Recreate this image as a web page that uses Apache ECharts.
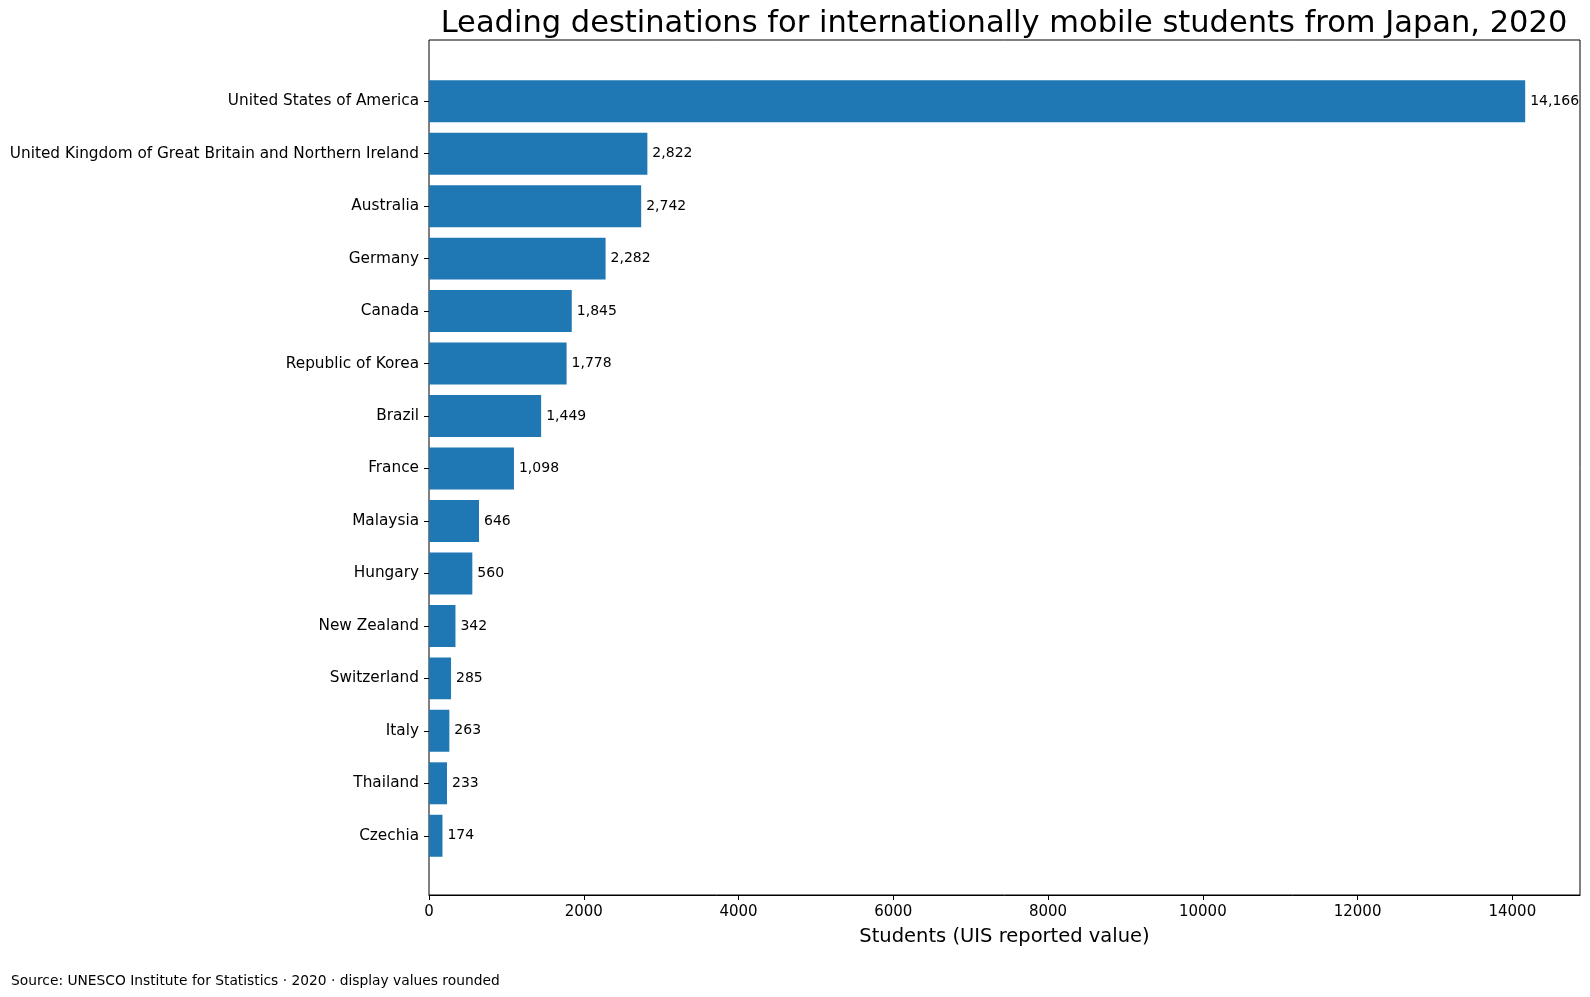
<!DOCTYPE html>
<html>
<head>
<meta charset="utf-8">
<title>Leading destinations for internationally mobile students from Japan, 2020</title>
<script src="https://cdn.jsdelivr.net/npm/echarts@6/dist/echarts.min.js"></script>
<style>
  html, body { margin: 0; padding: 0; background: #fff; }
  #chart { width: 1590px; height: 997px; }
</style>
</head>
<body>
<div id="chart"></div>
<script>
// data
var countries = [
  'United States of America',
  'United Kingdom of Great Britain and Northern Ireland',
  'Australia', 'Germany', 'Canada', 'Republic of Korea', 'Brazil',
  'France', 'Malaysia', 'Hungary', 'New Zealand', 'Switzerland',
  'Italy', 'Thailand', 'Czechia'
];
var students = [14166, 2822, 2742, 2282, 1845, 1778, 1449, 1098, 646, 560, 342, 285, 263, 233, 174];
var xTicks = [0, 2000, 4000, 6000, 8000, 10000, 12000, 14000];

var FONT = 'DejaVu Sans';
var xMax = Math.max.apply(null, students) * 1.05;  // matplotlib style 5% margin

var chart = echarts.init(document.getElementById('chart'), null, { renderer: 'canvas' });

var option = {
  backgroundColor: '#fff',
  animation: false,
  textStyle: { fontFamily: FONT },
  graphic: [
    {
      type: 'text', x: 1004, y: 24,
      style: {
        text: 'Leading destinations for internationally mobile students from Japan, 2020',
        font: '30.5px "DejaVu Sans"', fill: '#000',
        textAlign: 'center', textVerticalAlign: 'middle'
      }
    },
    {
      type: 'text', x: 11, y: 981,
      style: {
        text: 'Source: UNESCO Institute for Statistics \u00b7 2020 \u00b7 display values rounded',
        font: '13.8px "DejaVu Sans"', fill: '#000',
        textAlign: 'left', textVerticalAlign: 'middle'
      }
    }
  ],
  grid: [
    // frame + x axis
    { left: 429, right: 10, top: 40, bottom: 102, show: true, borderColor: '#000', borderWidth: 1,
      backgroundColor: 'transparent', outerBoundsMode: 'none' },
    // bars, category bands inside the frame margins
    { left: 429, right: 10, top: 75, bottom: 135, outerBoundsMode: 'none' }
  ],
  xAxis: [
    {
      gridIndex: 0, type: 'value', min: 0, max: xMax,
      name: 'Students (UIS reported value)', nameLocation: 'middle', nameGap: 32,
      nameTextStyle: { fontSize: 19.5, color: '#000', fontFamily: FONT },
      axisLine: { show: true, lineStyle: { color: '#000', width: 1 } },
      axisTick: { show: true, length: 5, customValues: xTicks, lineStyle: { color: '#000' } },
      axisLabel: {
        customValues: xTicks, fontSize: 15, color: '#000', margin: 10, fontFamily: FONT,
        formatter: function (v) { return String(v); }
      },
      splitLine: { show: false }
    },
    {
      gridIndex: 1, type: 'value', min: 0, max: xMax, show: false
    }
  ],
  yAxis: [
    { gridIndex: 0, type: 'value', min: 0, max: 1, show: false },
    {
      gridIndex: 1, type: 'category', data: countries, inverse: true,
      axisLine: { show: false },
      axisTick: { show: true, length: 5, alignWithLabel: true, lineStyle: { color: '#000' } },
      axisLabel: { fontSize: 15.3, color: '#000', margin: 10, fontFamily: FONT },
      splitLine: { show: false }
    }
  ],
  series: [{
    type: 'bar',
    xAxisIndex: 1, yAxisIndex: 1,
    data: students,
    barWidth: '80%',
    itemStyle: { color: '#1f77b4' },
    label: {
      show: true, position: 'right', distance: 5,
      fontSize: 14, color: '#000', fontFamily: FONT,
      formatter: function (p) { return p.value.toLocaleString('en-US'); }
    }
  }]
};

chart.setOption(option);
</script>
</body>
</html>
